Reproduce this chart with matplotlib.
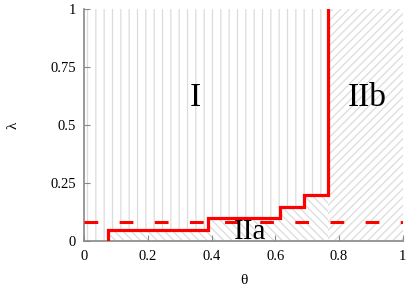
import matplotlib.pyplot as plt
import numpy as np

plt.rcParams['font.family'] = ['Liberation Serif', 'DejaVu Serif']
plt.rcParams['hatch.linewidth'] = 0.9

# step boundary between region I and IIa
step_theta = [0.076, 0.076, 0.388, 0.388, 0.615, 0.615, 0.691, 0.691, 0.766, 0.766]
step_lambda = [0.01, 0.05, 0.05, 0.10, 0.10, 0.15, 0.15, 0.20, 0.20, 1.0]
dashed_lambda = 0.082

region_labels = ['I', 'IIa', 'IIb']
label_theta = [0.348, 0.52, 0.89]
label_lambda = [0.62, 0.04, 0.62]

xticks = [0, 0.2, 0.4, 0.6, 0.8, 1]
xtick_labels = ['0', '0.2', '0.4', '0.6', '0.8', '1']
yticks = [0, 0.25, 0.5, 0.75, 1]
ytick_labels = ['0', '0.25', '0.5', '0.75', '1']

fig = plt.figure(figsize=(4.11, 2.88), dpi=100)
ax = fig.add_axes([84.2 / 411, 1 - 241.3 / 288, 318.5 / 411, 232 / 288])

hatch_col = '#dcdcdc'
boundary = step_theta[-1]

# region I : above the step curve
th = np.array([0.0, step_theta[0]] + step_theta[1:-1])
lo = np.array([0.0, 0.0] + step_lambda[1:-1])
ax.fill_between(th, lo, 1.0, facecolor='none', edgecolor=hatch_col,
                hatch='||', linewidth=0)

# region IIa : below the step curve
th2 = np.array(step_theta[1:-1])
hi2 = np.array(step_lambda[1:-1])
ax.fill_between(th2, 0.0, hi2, facecolor='none', edgecolor=hatch_col,
                hatch='\\\\\\\\', linewidth=0)

# region IIb : right of the boundary
ax.fill_between([boundary, 1.0], 0.0, 1.0, facecolor='none', edgecolor=hatch_col,
                hatch='////', linewidth=0)

ax.plot(step_theta, step_lambda, color='red', lw=2.3, solid_joinstyle='miter', zorder=3)
ax.plot([0, 1], [dashed_lambda, dashed_lambda], color='red', lw=2.2,
        linestyle=(0, (4.5, 7)), zorder=3)

for txt, x, y in zip(region_labels, label_theta, label_lambda):
    ax.text(x, y, txt, fontsize=24 if txt != 'IIa' else 21, ha='center', va='center')

ax.set_xlim(0, 1)
ax.set_ylim(0, 1)
ax.set_xticks(xticks, xtick_labels)
ax.set_yticks(yticks, ytick_labels)
ax.tick_params(direction='in', length=4, color='#888888', labelsize=10.5, pad=6)
for s in ['top', 'right']:
    ax.spines[s].set_visible(False)
for s in ['left', 'bottom']:
    ax.spines[s].set_color('#888888')
    ax.spines[s].set_linewidth(1.2)

ax.set_xlabel('θ', fontsize=11, labelpad=8)
ax.set_ylabel('λ', fontsize=11, labelpad=22)

fig.savefig('out.png', dpi=100)
